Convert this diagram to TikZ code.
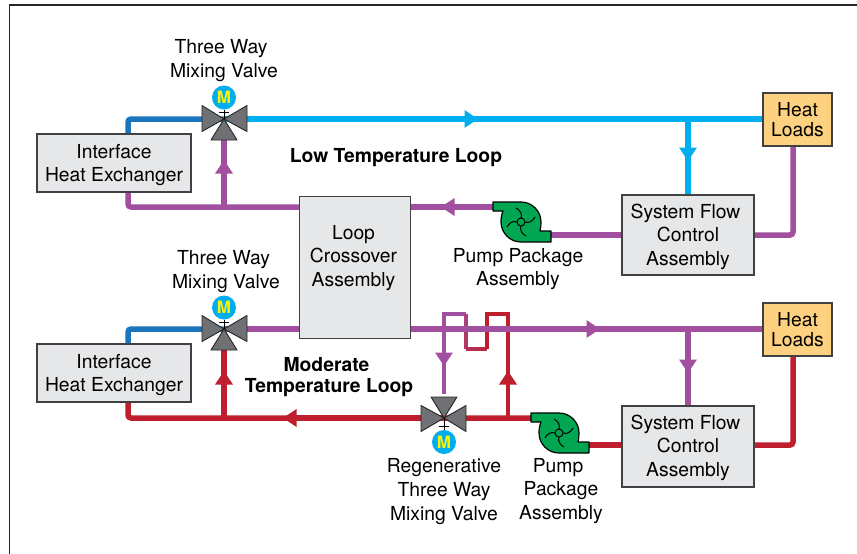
\documentclass[tikz,border=0pt]{standalone}
\usepackage{fontspec}
\setmainfont{TeX Gyre Heros}
\usetikzlibrary{arrows.meta,calc}
\definecolor{cy}{HTML}{00AEEF}
\definecolor{bl}{HTML}{1B75BC}
\definecolor{pu}{HTML}{A24F9F}
\definecolor{re}{HTML}{BE1E2D}
\definecolor{gr}{HTML}{00A651}
\definecolor{bx}{HTML}{E6E7E8}
\definecolor{hl}{HTML}{FDD17F}
\definecolor{vg}{HTML}{707175}
\definecolor{ed}{HTML}{414042}
\definecolor{ye}{HTML}{FFF200}
\newcommand{\padr}[1]{\rule{#1}{0pt}}
\tikzset{
  x=1pt,y=-1pt,
  flow/.style={line width=5.5pt,rounded corners=3pt},
  thinflow/.style={line width=3.7pt},
  tip/.style={-{Triangle[length=13.5pt,width=17pt]}},
  box/.style={draw=ed,line width=1.3pt,fill=bx,inner sep=0pt,align=center,text=black,
    font=\fontsize{19.3}{24}\selectfont},
  load/.style={box,fill=hl,font=\fontsize{19.3}{20.5}\selectfont},
  lbl/.style={inner sep=0pt,align=center,text=black,font=\fontsize{19.3}{23.6}\selectfont},
  hdr/.style={inner sep=0pt,align=center,font=\fontsize{19.3}{21}\selectfont\bfseries},
  motor/.style={circle,fill=cy,minimum size=24pt,inner sep=0pt,text=ye,font=\fontsize{17}{17}\selectfont\bfseries},
  stem/.style={draw=black,line width=0.8pt},
  pics/valve/.style={code={
    \draw[fill=vg,draw=black!85,line width=0.9pt,line join=round]
      (0,0)--(-22,-13.5)--(-22,12.5)--cycle;
    \draw[fill=vg,draw=black!85,line width=0.9pt,line join=round]
      (0,0)--(23,-13.5)--(23,12.5)--cycle;
    \draw[fill=vg,draw=black!85,line width=0.9pt,line join=round]
      (0,0)--(-13,21)--(13,21)--cycle;
  }},
  pics/pump/.style={code={
    \draw[fill=gr,draw=black,line width=1.2pt,line join=round]
      (-28,-20)--(0,-20) .. controls (11,-20) and (20,-11) .. (20,0)
      .. controls (20,3) and (19.8,6) .. (19,9) -- (30,9)--(30,20)--(0,20)
      .. controls (-11,20) and (-20,11) .. (-20,0)
      .. controls (-20,-4) and (-19.5,-7) .. (-18,-11) -- (-28,-11)--cycle;
    \draw[black,line width=1pt] (0,0) circle[radius=4];
    \foreach \a in {0,90,180,270}
      \draw[black,line width=1pt,rotate=\a] (0,-4) .. controls (1.5,-8) and (-1,-12) .. (-5,-14);
  }}
}
\begin{document}
\begin{tikzpicture}
\useasboundingbox (0,0) rectangle (857,554);
\fill[white] (0,0) rectangle (857,554);
\coordinate (fa) at (857,5); \coordinate (fb) at (9.5,5); \coordinate (fc) at (9.5,554);
\draw[line width=1.3pt,black!85] (fa)--(fb)--(fc);

\coordinate (v1) at (224,119);
\coordinate (v2) at (224,329);
\coordinate (v3) at (444,418);
\coordinate (p1) at (521,222);
\coordinate (p2) at (559,433);
\coordinate (p1in) at ($(p1)+(29,13)$);
\coordinate (p1out) at ($(p1)+(-27,-15)$);
\coordinate (p2in) at ($(p2)+(29,12)$);
\coordinate (p2out) at ($(p2)+(-27,-15)$);
\coordinate (t1) at (688,119);
\coordinate (t2) at (688,329);
\coordinate (j1) at (224,207);
\coordinate (j2) at (224,418);
\coordinate (j3) at (508,418);
\coordinate (n1) at (128,134);
\coordinate (n2) at (128,192);
\coordinate (n3) at (128,344);
\coordinate (n4) at (128,402);
\coordinate (n5) at (793,146);
\coordinate (n6) at (793,356);

% upper loop
\draw[flow,draw=bl] (v1) -- (128,119) -- (n1);
\draw[flow,draw=cy] (v1) -- (763,119);
\draw[draw=cy,line width=5.5pt,tip] (v1) -- (478,119);
\draw[flow,draw=cy] (t1) -- (688,195);
\draw[draw=cy,line width=5.5pt,tip] (t1) -- (688,161);
\draw[flow,draw=pu] (n2) -- (128,207) -- (299,207);
\draw[flow,draw=pu] (j1) -- (224,140);
\draw[draw=pu,line width=5.5pt,tip] (j1) -- (224,160);
\draw[flow,draw=pu] (p1out) -- (411,207);
\draw[draw=pu,line width=5.5pt,tip] (p1out) -- (441,207);
\draw[flow,draw=pu] (p1in) -- (622,235);
\draw[flow,draw=pu] (n5) -- (793,235) -- (754,235);

% thin regenerative lines
\draw[thinflow,draw=pu,line join=miter] (444,394) -- (444,314) -- (466,314);
\draw[thinflow,draw=pu!70!re,line cap=square] (466,314) -- (466,332);
\draw[thinflow,draw=pu!50!re,line cap=square] (466,332) -- (466,349);
\draw[thinflow,draw=pu!35!re,line cap=square] (466,349) -- (477,349);
\draw[thinflow,draw=pu!20!re,line cap=square] (477,349) -- (487,349);
\draw[thinflow,draw=re,line join=miter] (487,349) -- (487,314) -- (508,314) -- (j3);
\draw[draw=pu,line width=3.7pt,tip] (444,330) -- (444,366);
\draw[draw=re,line width=3.7pt,tip] (j3) -- (508,371);

% lower loop
\draw[flow,draw=bl] (v2) -- (128,329) -- (n3);
\draw[flow,draw=pu] (v2) -- (299,329);
\draw[flow,draw=pu] (411,329) -- (763,329);
\draw[draw=pu,line width=5.5pt,tip] (411,329) -- (600,329);
\draw[flow,draw=pu] (t2) -- (688,406);
\draw[draw=pu,line width=5.5pt,tip] (t2) -- (688,373);
\draw[flow,draw=re] (n4) -- (128,418) -- (p2out);
\draw[draw=re,line width=5.5pt,tip] (v3) -- (283,418);
\draw[flow,draw=re] (j2) -- (224,350);
\draw[draw=re,line width=5.5pt,tip] (j2) -- (224,371);
\draw[flow,draw=re] (p2in) -- (622,445);
\draw[flow,draw=re] (n6) -- (793,445) -- (754,445);

% boxes
\node[box,minimum width=154pt,minimum height=58pt] (ihx1) at (114,163) {};
\node[box,minimum width=154pt,minimum height=58pt] (ihx2) at (114,373) {};
\node[box,minimum width=111pt,minimum height=142pt] (cross) at (355,267.5) {};
\node[load,minimum width=69pt,minimum height=53pt] (hl1) at (797.5,119.5) {Heat\\Loads};
\node[load,minimum width=69pt,minimum height=53pt] (hl2) at (797.5,329.5) {Heat\\Loads};
\node[box,minimum width=132pt,minimum height=80pt] (sf1) at (688,235) {};
\node[box,minimum width=132pt,minimum height=81pt] (sf2) at (688,446.5) {};

% valves, motors, pumps
\pic at (v1) {valve};
\pic at (v2) {valve};
\pic[rotate=180] at (v3) {valve};
\node[motor] (m1) at (224,97.5) {M};
\node[motor] (m2) at (224,307.5) {M};
\node[motor] (m3) at (444,442) {M};
\draw[stem] (m1) -- (v1);
\draw[stem] (m2) -- (v2);
\draw[stem] (m3) -- (v3);
\draw[stem] ($(v1)+(-5,-7)$) -- ($(v1)+(5,-7)$);
\draw[stem] ($(v2)+(-5,-7)$) -- ($(v2)+(5,-7)$);
\draw[stem] ($(v3)+(-5,8)$) -- ($(v3)+(5,8)$);
\pic at (p1) {pump};
\pic at (p2) {pump};

% labels
\node[lbl] (t1a) at (114,165) {Interface\\Heat Exchanger};
\node[lbl] (t1b) at (114,375) {Interface\\Heat Exchanger};
\node[lbl] (t1c) at (353.5,258) {Loop\\Crossover\\Assembly};
\node[lbl] (t1d) at (688,236.5) {System Flow\padr{5pt}\\Control\\Assembly};
\node[lbl] (t1e) at (688,447.5) {System Flow\padr{5pt}\\Control\\Assembly};
\node[lbl] (l1) at (224,60.5) {Three Way\padr{6pt}\\Mixing Valve};
\node[lbl] (l2) at (226,271.5) {Three Way\padr{5pt}\\Mixing Valve};
\node[lbl] (l3) at (518,269) {Pump Package\\Assembly};
\node[lbl] (l4) at (444,491.5) {Regenerative\\Three Way\\Mixing Valve};
\node[lbl] (l5) at (561,491) {Pump\padr{6pt}\\Package\\Assembly};
\node[hdr] (h1) at (396,158) {Low Temperature Loop};
\node[hdr] (h2) at (329,377.5) {Moderate\padr{5pt}\\Temperature Loop};
\end{tikzpicture}
\end{document}
